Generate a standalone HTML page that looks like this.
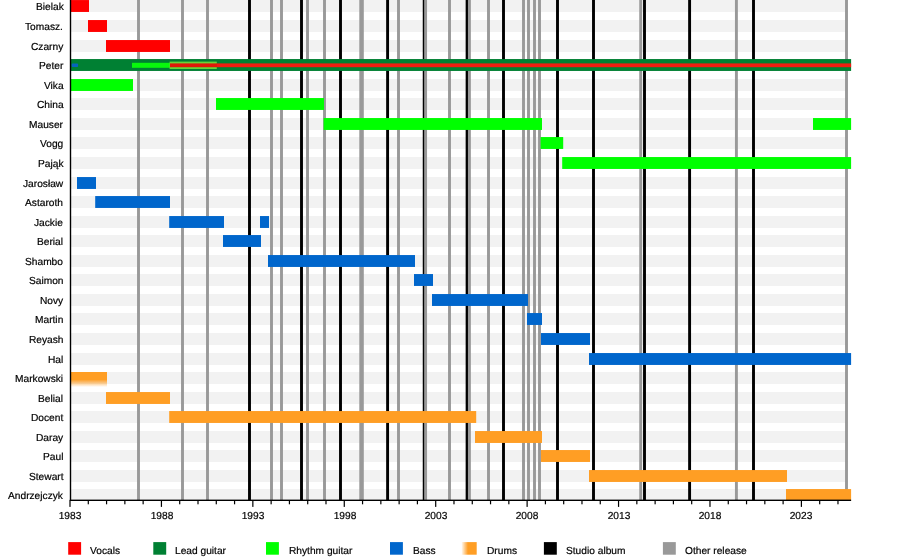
<!DOCTYPE html><html><head><meta charset="utf-8"><title>timeline</title><style>
html,body{margin:0;padding:0;background:#fff}body{width:900px;height:560px;overflow:hidden;position:relative;font-family:"Liberation Sans",sans-serif;font-size:10.2px;color:#000}
svg{position:absolute;left:0;top:0;filter:blur(0.35px)}
.n,.y,.l{transform:rotate(0.03deg);-webkit-text-stroke:0.2px #000}.n{position:absolute;right:836.7px;white-space:nowrap;line-height:12px;height:12px}
.y{position:absolute;width:40px;text-align:center;top:509.7px;line-height:12px}
.l{position:absolute;top:544.8px;line-height:12px;white-space:nowrap}
</style></head><body>
<svg width="900" height="560" viewBox="0 0 900 560" shape-rendering="auto">
<defs><linearGradient id="gd" x1="0" y1="0" x2="1" y2="0"><stop offset="0" stop-color="#ff9e24" stop-opacity="0.05"/><stop offset="0.42" stop-color="#ff9e24" stop-opacity="1"/><stop offset="1" stop-color="#ff9e24"/></linearGradient><linearGradient id="gm" x1="0" y1="0" x2="0" y2="1"><stop offset="0" stop-color="#ff9e24"/><stop offset="0.5" stop-color="#ff9e24"/><stop offset="1" stop-color="#ff9e24" stop-opacity="0"/></linearGradient></defs>
<rect x="70.6" y="0.05" width="777.4" height="11.9" fill="#f2f2f2"/>
<rect x="70.6" y="20.05" width="777.4" height="11.9" fill="#f2f2f2"/>
<rect x="70.6" y="40.05" width="777.4" height="11.9" fill="#f2f2f2"/>
<rect x="70.6" y="59.05" width="777.4" height="11.9" fill="#f2f2f2"/>
<rect x="70.6" y="79.05" width="777.4" height="11.9" fill="#f2f2f2"/>
<rect x="70.6" y="98.05" width="777.4" height="11.9" fill="#f2f2f2"/>
<rect x="70.6" y="118.05" width="777.4" height="11.9" fill="#f2f2f2"/>
<rect x="70.6" y="137.05" width="777.4" height="11.9" fill="#f2f2f2"/>
<rect x="70.6" y="157.05" width="777.4" height="11.9" fill="#f2f2f2"/>
<rect x="70.6" y="177.05" width="777.4" height="11.9" fill="#f2f2f2"/>
<rect x="70.6" y="196.05" width="777.4" height="11.9" fill="#f2f2f2"/>
<rect x="70.6" y="216.05" width="777.4" height="11.9" fill="#f2f2f2"/>
<rect x="70.6" y="235.05" width="777.4" height="11.9" fill="#f2f2f2"/>
<rect x="70.6" y="255.05" width="777.4" height="11.9" fill="#f2f2f2"/>
<rect x="70.6" y="274.05" width="777.4" height="11.9" fill="#f2f2f2"/>
<rect x="70.6" y="294.05" width="777.4" height="11.9" fill="#f2f2f2"/>
<rect x="70.6" y="313.05" width="777.4" height="11.9" fill="#f2f2f2"/>
<rect x="70.6" y="333.05" width="777.4" height="11.9" fill="#f2f2f2"/>
<rect x="70.6" y="353.05" width="777.4" height="11.9" fill="#f2f2f2"/>
<rect x="70.6" y="372.05" width="777.4" height="11.9" fill="#f2f2f2"/>
<rect x="70.6" y="392.05" width="777.4" height="11.9" fill="#f2f2f2"/>
<rect x="70.6" y="411.05" width="777.4" height="11.9" fill="#f2f2f2"/>
<rect x="70.6" y="431.05" width="777.4" height="11.9" fill="#f2f2f2"/>
<rect x="70.6" y="450.05" width="777.4" height="11.9" fill="#f2f2f2"/>
<rect x="70.6" y="470.05" width="777.4" height="11.9" fill="#f2f2f2"/>
<rect x="70.6" y="489.05" width="777.4" height="11.9" fill="#f2f2f2"/>
<rect x="248.05" y="0" width="2.9" height="500.3" fill="#000"/>
<rect x="300.05" y="0" width="2.9" height="500.3" fill="#000"/>
<rect x="339.05" y="0" width="2.9" height="500.3" fill="#000"/>
<rect x="386.15" y="0" width="2.9" height="500.3" fill="#000"/>
<rect x="422.75" y="0" width="2.9" height="500.3" fill="#000"/>
<rect x="465.65" y="0" width="2.9" height="500.3" fill="#000"/>
<rect x="502.05" y="0" width="2.9" height="500.3" fill="#000"/>
<rect x="556.05" y="0" width="2.9" height="500.3" fill="#000"/>
<rect x="592.05" y="0" width="2.9" height="500.3" fill="#000"/>
<rect x="643.05" y="0" width="2.9" height="500.3" fill="#000"/>
<rect x="688.15" y="0" width="2.9" height="500.3" fill="#000"/>
<rect x="752.05" y="0" width="2.9" height="500.3" fill="#000"/>
<rect x="137.05" y="0" width="2.9" height="500.3" fill="#999999"/>
<rect x="181.05" y="0" width="2.9" height="500.3" fill="#999999"/>
<rect x="206.05" y="0" width="2.9" height="500.3" fill="#999999"/>
<rect x="270.05" y="0" width="2.9" height="500.3" fill="#999999"/>
<rect x="280.05" y="0" width="2.9" height="500.3" fill="#999999"/>
<rect x="306.05" y="0" width="2.9" height="500.3" fill="#999999"/>
<rect x="323.05" y="0" width="2.9" height="500.3" fill="#999999"/>
<rect x="397.05" y="0" width="2.9" height="500.3" fill="#999999"/>
<rect x="424.15" y="0" width="2.9" height="500.3" fill="#999999"/>
<rect x="448.05" y="0" width="2.9" height="500.3" fill="#999999"/>
<rect x="467.95" y="0" width="2.9" height="500.3" fill="#999999"/>
<rect x="487.05" y="0" width="2.9" height="500.3" fill="#999999"/>
<rect x="522.05" y="0" width="2.9" height="500.3" fill="#999999"/>
<rect x="527.05" y="0" width="2.9" height="500.3" fill="#999999"/>
<rect x="533.05" y="0" width="2.9" height="500.3" fill="#999999"/>
<rect x="538.05" y="0" width="2.9" height="500.3" fill="#999999"/>
<rect x="639.25" y="0" width="2.9" height="500.3" fill="#999999"/>
<rect x="734.95" y="0" width="2.9" height="500.3" fill="#999999"/>
<rect x="845.05" y="0" width="2.9" height="500.3" fill="#999999"/>
<rect x="359.3" y="0" width="4.5" height="500.3" fill="#999999"/>
<rect x="70.4" y="0.05" width="18.60" height="11.9" fill="#ff0000"/>
<rect x="88" y="20.05" width="19.00" height="11.9" fill="#ff0000"/>
<rect x="106" y="40.05" width="64.00" height="11.9" fill="#ff0000"/>
<rect x="70.4" y="59.05" width="780.70" height="11.9" fill="#008033"/>
<rect x="70.4" y="79.05" width="62.60" height="11.9" fill="#00ff00"/>
<rect x="216" y="98.05" width="108.00" height="11.9" fill="#00ff00"/>
<rect x="323.6" y="118.05" width="218.40" height="11.9" fill="#00ff00"/>
<rect x="813" y="118.05" width="38.10" height="11.9" fill="#00ff00"/>
<rect x="540.6" y="137.05" width="22.60" height="11.9" fill="#00ff00"/>
<rect x="562.2" y="157.05" width="288.90" height="11.9" fill="#00ff00"/>
<rect x="77" y="177.05" width="19.00" height="11.9" fill="#0066cc"/>
<rect x="95.2" y="196.05" width="74.80" height="11.9" fill="#0066cc"/>
<rect x="169.2" y="216.05" width="54.80" height="11.9" fill="#0066cc"/>
<rect x="260" y="216.05" width="9.00" height="11.9" fill="#0066cc"/>
<rect x="223" y="235.05" width="38.00" height="11.9" fill="#0066cc"/>
<rect x="268" y="255.05" width="147.00" height="11.9" fill="#0066cc"/>
<rect x="414" y="274.05" width="19.00" height="11.9" fill="#0066cc"/>
<rect x="432" y="294.05" width="96.00" height="11.9" fill="#0066cc"/>
<rect x="527" y="313.05" width="15.00" height="11.9" fill="#0066cc"/>
<rect x="541" y="333.05" width="49.00" height="11.9" fill="#0066cc"/>
<rect x="589" y="353.05" width="262.10" height="11.9" fill="#0066cc"/>
<rect x="106" y="392.05" width="64.00" height="11.9" fill="#ff9e24"/>
<rect x="169.2" y="411.05" width="307.00" height="11.9" fill="#ff9e24"/>
<rect x="475" y="431.05" width="67.00" height="11.9" fill="#ff9e24"/>
<rect x="541" y="450.05" width="49.00" height="11.9" fill="#ff9e24"/>
<rect x="589" y="470.05" width="198.00" height="11.9" fill="#ff9e24"/>
<rect x="786" y="489.05" width="65.10" height="11.9" fill="#ff9e24"/>
<rect x="70.4" y="372" width="36.6" height="15" fill="url(#gm)"/>
<rect x="71.6" y="63.60" width="6.5" height="3.4" rx="1" fill="#0862c8" opacity="0.92"/>
<rect x="132" y="62.80" width="38.5" height="5" fill="#08f80c"/>
<rect x="169.6" y="61.60" width="47.2" height="7.4" fill="#66d43a"/>
<rect x="170" y="63.40" width="47" height="3.8" fill="#e01a08"/>
<rect x="216.8" y="63.40" width="634.3" height="3.8" fill="#f01c10"/>
<rect x="69.8" y="0" width="1.4" height="501.0" fill="#000"/>
<rect x="69.8" y="499.6" width="781.3" height="1.4" fill="#000"/>
<rect x="69.40" y="500.3" width="1.2" height="6.6" fill="#000"/>
<rect x="87.69" y="500.3" width="1.2" height="4.0" fill="#000"/>
<rect x="105.97" y="500.3" width="1.2" height="4.0" fill="#000"/>
<rect x="124.26" y="500.3" width="1.2" height="4.0" fill="#000"/>
<rect x="142.54" y="500.3" width="1.2" height="4.0" fill="#000"/>
<rect x="160.83" y="500.3" width="1.2" height="6.6" fill="#000"/>
<rect x="179.11" y="500.3" width="1.2" height="4.0" fill="#000"/>
<rect x="197.40" y="500.3" width="1.2" height="4.0" fill="#000"/>
<rect x="215.68" y="500.3" width="1.2" height="4.0" fill="#000"/>
<rect x="233.97" y="500.3" width="1.2" height="4.0" fill="#000"/>
<rect x="252.25" y="500.3" width="1.2" height="6.6" fill="#000"/>
<rect x="270.53" y="500.3" width="1.2" height="4.0" fill="#000"/>
<rect x="288.82" y="500.3" width="1.2" height="4.0" fill="#000"/>
<rect x="307.11" y="500.3" width="1.2" height="4.0" fill="#000"/>
<rect x="325.39" y="500.3" width="1.2" height="4.0" fill="#000"/>
<rect x="343.67" y="500.3" width="1.2" height="6.6" fill="#000"/>
<rect x="361.96" y="500.3" width="1.2" height="4.0" fill="#000"/>
<rect x="380.25" y="500.3" width="1.2" height="4.0" fill="#000"/>
<rect x="398.53" y="500.3" width="1.2" height="4.0" fill="#000"/>
<rect x="416.81" y="500.3" width="1.2" height="4.0" fill="#000"/>
<rect x="435.10" y="500.3" width="1.2" height="6.6" fill="#000"/>
<rect x="453.38" y="500.3" width="1.2" height="4.0" fill="#000"/>
<rect x="471.67" y="500.3" width="1.2" height="4.0" fill="#000"/>
<rect x="489.95" y="500.3" width="1.2" height="4.0" fill="#000"/>
<rect x="508.24" y="500.3" width="1.2" height="4.0" fill="#000"/>
<rect x="526.52" y="500.3" width="1.2" height="6.6" fill="#000"/>
<rect x="544.81" y="500.3" width="1.2" height="4.0" fill="#000"/>
<rect x="563.09" y="500.3" width="1.2" height="4.0" fill="#000"/>
<rect x="581.38" y="500.3" width="1.2" height="4.0" fill="#000"/>
<rect x="599.66" y="500.3" width="1.2" height="4.0" fill="#000"/>
<rect x="617.95" y="500.3" width="1.2" height="6.6" fill="#000"/>
<rect x="636.24" y="500.3" width="1.2" height="4.0" fill="#000"/>
<rect x="654.52" y="500.3" width="1.2" height="4.0" fill="#000"/>
<rect x="672.80" y="500.3" width="1.2" height="4.0" fill="#000"/>
<rect x="691.09" y="500.3" width="1.2" height="4.0" fill="#000"/>
<rect x="709.38" y="500.3" width="1.2" height="6.6" fill="#000"/>
<rect x="727.66" y="500.3" width="1.2" height="4.0" fill="#000"/>
<rect x="745.94" y="500.3" width="1.2" height="4.0" fill="#000"/>
<rect x="764.23" y="500.3" width="1.2" height="4.0" fill="#000"/>
<rect x="782.51" y="500.3" width="1.2" height="4.0" fill="#000"/>
<rect x="800.80" y="500.3" width="1.2" height="6.6" fill="#000"/>
<rect x="819.09" y="500.3" width="1.2" height="4.0" fill="#000"/>
<rect x="837.37" y="500.3" width="1.2" height="4.0" fill="#000"/>
<rect x="68.2" y="542.1" width="12.9" height="12.6" fill="#ff0000"/>
<rect x="153.3" y="542.1" width="12.9" height="12.6" fill="#008033"/>
<rect x="266" y="542.1" width="12.9" height="12.6" fill="#00ff00"/>
<rect x="390" y="542.1" width="12.9" height="12.6" fill="#0066cc"/>
<rect x="461.6" y="542.1" width="15.1" height="12.6" fill="url(#gd)"/>
<rect x="543.9" y="542.1" width="12.9" height="12.6" fill="#000"/>
<rect x="662.9" y="542.1" width="12.9" height="12.6" fill="#999999"/>
</svg>
<div id="t" style="position:absolute;left:0;top:0;width:900px;height:560px;will-change:transform">
<div class="n" style="top:1.40px">Bielak</div>
<div class="n" style="top:21.40px">Tomasz.</div>
<div class="n" style="top:41.40px">Czarny</div>
<div class="n" style="top:60.40px">Peter</div>
<div class="n" style="top:80.40px">Vika</div>
<div class="n" style="top:99.40px">China</div>
<div class="n" style="top:119.40px">Mauser</div>
<div class="n" style="top:138.40px">Vogg</div>
<div class="n" style="top:158.40px">Pająk</div>
<div class="n" style="top:178.40px">Jarosław</div>
<div class="n" style="top:197.40px">Astaroth</div>
<div class="n" style="top:217.40px">Jackie</div>
<div class="n" style="top:236.40px">Berial</div>
<div class="n" style="top:256.40px">Shambo</div>
<div class="n" style="top:275.40px">Saimon</div>
<div class="n" style="top:295.40px">Novy</div>
<div class="n" style="top:314.40px">Martin</div>
<div class="n" style="top:334.40px">Reyash</div>
<div class="n" style="top:354.40px">Hal</div>
<div class="n" style="top:373.40px">Markowski</div>
<div class="n" style="top:393.40px">Belial</div>
<div class="n" style="top:412.40px">Docent</div>
<div class="n" style="top:432.40px">Daray</div>
<div class="n" style="top:451.40px">Paul</div>
<div class="n" style="top:471.40px">Stewart</div>
<div class="n" style="top:490.40px">Andrzejczyk</div>
<div class="y" style="left:50.40px">1983</div>
<div class="y" style="left:141.78px">1988</div>
<div class="y" style="left:233.15px">1993</div>
<div class="y" style="left:324.53px">1998</div>
<div class="y" style="left:415.90px">2003</div>
<div class="y" style="left:507.27px">2008</div>
<div class="y" style="left:598.65px">2013</div>
<div class="y" style="left:690.02px">2018</div>
<div class="y" style="left:781.40px">2023</div>
<div class="l" style="left:90.0px">Vocals</div>
<div class="l" style="left:175.2px">Lead guitar</div>
<div class="l" style="left:288.5px">Rhythm guitar</div>
<div class="l" style="left:412.5px">Bass</div>
<div class="l" style="left:486.70000000000005px">Drums</div>
<div class="l" style="left:565.8000000000001px">Studio album</div>
<div class="l" style="left:684.7px">Other release</div>
</div>
</body></html>
